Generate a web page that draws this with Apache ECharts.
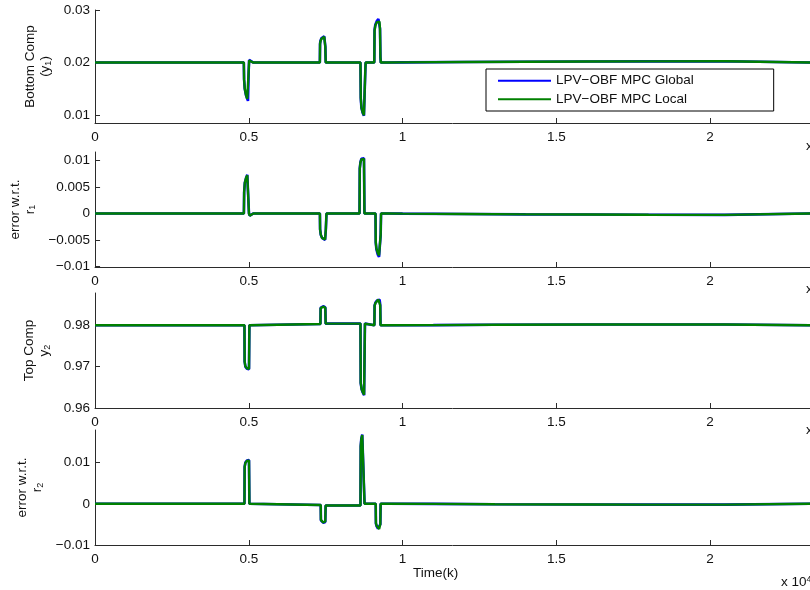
<!DOCTYPE html>
<html>
<head>
<meta charset="utf-8">
<script src="https://cdn.jsdelivr.net/npm/echarts@6/dist/echarts.min.js"></script>
<style>html,body{margin:0;padding:0;background:#fff}#c{width:810px;height:590px}</style>
</head>
<body>
<div id="c"></div>
<script>
// ---------- data ----------
const seriesNames = ['LPV\u2212OBF MPC Global', 'LPV\u2212OBF MPC Local'];
const xTicks = [0, 5000, 10000, 15000, 20000];

// Subplot 1: Bottom Comp (y1)
const t1 = [0, 4840, 4848, 4870, 4910, 4950, 4975, 4988, 4998, 5012, 5050, 5150,
  7312, 7318, 7330, 7360, 7410, 7455, 7478, 7490, 7502,
  8632, 8642, 8665, 8705, 8745, 8768, 8780, 8790, 8800,
  9082, 9090, 9115, 9165, 9215, 9250, 9268, 9282, 9294,
  9500, 10000, 12000, 14000, 16000, 18000, 20480, 20520, 23400];
const y1Global = [0.0200, 0.0200, 0.0168, 0.0150, 0.0138, 0.0131, 0.0127, 0.0128, 0.0185, 0.0205, 0.0202, 0.0200,
  0.0200, 0.0236, 0.0241, 0.0246, 0.0249, 0.0250, 0.0249, 0.0230, 0.0200,
  0.0200, 0.0132, 0.0113, 0.0104, 0.0099, 0.0098, 0.0102, 0.0185, 0.0200,
  0.0200, 0.0262, 0.0272, 0.0279, 0.0283, 0.0280, 0.0265, 0.0210, 0.0200,
  0.0200, 0.02003, 0.0201, 0.02016, 0.0202, 0.02022, 0.02024, 0.0200, 0.0200];
const y1Local = [0.0200, 0.0200, 0.0168, 0.0150, 0.0138, 0.0131, 0.0128, 0.0129, 0.0185, 0.0204, 0.0202, 0.0200,
  0.0200, 0.0235, 0.0240, 0.0245, 0.0248, 0.0249, 0.0248, 0.0230, 0.0200,
  0.0200, 0.0133, 0.0114, 0.0105, 0.0100, 0.0099, 0.0103, 0.0185, 0.0200,
  0.0200, 0.0260, 0.0270, 0.0277, 0.0280, 0.0278, 0.0263, 0.0210, 0.0200,
  0.0200, 0.02003, 0.0201, 0.02016, 0.0202, 0.02022, 0.02024, 0.0200, 0.0200];

// Subplot 2: error w.r.t. r1
const t2 = [0, 4840, 4848, 4870, 4910, 4950, 4978, 4992, 5005, 5030, 5150,
  7312, 7318, 7340, 7380, 7430, 7480, 7505, 7525,
  8600, 8608, 8630, 8660, 8690, 8745, 8760,
  9120, 9128, 9150, 9190, 9235, 9270, 9288, 9300,
  9500, 10000, 12000, 14000, 16000, 18000, 20480, 20520, 23400];
const e1Global = [0, 0, 0.0040, 0.0058, 0.0067, 0.0073, 0.0076, 0.0074, 0.0000, -0.0004, 0,
  0, -0.0030, -0.0040, -0.0046, -0.0049, -0.0050, -0.0030, 0,
  0, 0.0085, 0.0097, 0.0103, 0.0105, 0.0104, 0,
  0, -0.0055, -0.0068, -0.0077, -0.0082, -0.0080, -0.0040, 0,
  0, -0.00003, -0.0001, -0.00017, -0.0002, -0.00023, -0.00026, 0, 0];
const e1Local = [0, 0, 0.0040, 0.0058, 0.0067, 0.0072, 0.0075, 0.0073, 0.0000, -0.0004, 0,
  0, -0.0030, -0.0040, -0.0046, -0.0048, -0.0049, -0.0030, 0,
  0, 0.0084, 0.0096, 0.0102, 0.0104, 0.0103, 0,
  0, -0.0054, -0.0066, -0.0074, -0.0079, -0.0077, -0.0040, 0,
  0, -0.00003, -0.0001, -0.00017, -0.0002, -0.00023, -0.00026, 0, 0];

// Subplot 3: Top Comp y2
const t3 = [0, 4860, 4866, 4890, 4940, 4990, 5008, 5020,
  7330, 7336, 7360, 7420, 7475, 7490, 7500, 7600,
  8632, 8640, 8670, 8710, 8750, 8768, 8778,
  9085, 9092, 9120, 9170, 9215, 9255, 9275, 9285,
  9500, 11000, 13000, 16000, 18000, 20480, 20520, 23400];
const y2Global = [0.98, 0.98, 0.9712, 0.9700, 0.9695, 0.9692, 0.9694, 0.98,
  0.9803, 0.9842, 0.9845, 0.9846, 0.9846, 0.9843, 0.9804, 0.9804,
  0.9804, 0.9660, 0.9645, 0.9637, 0.9631, 0.9632, 0.9804,
  0.9800, 0.9848, 0.9855, 0.9860, 0.9864, 0.9862, 0.9850, 0.9800,
  0.9800, 0.98003, 0.98012, 0.98018, 0.9802, 0.9802, 0.9800, 0.9800];
const y2Local = [0.98, 0.98, 0.9712, 0.9701, 0.9696, 0.9693, 0.9695, 0.98,
  0.9803, 0.9841, 0.9844, 0.9845, 0.9845, 0.9842, 0.9804, 0.9804,
  0.9804, 0.9661, 0.9646, 0.9638, 0.9632, 0.9633, 0.9804,
  0.9800, 0.9847, 0.9854, 0.9858, 0.9862, 0.9860, 0.9848, 0.9800,
  0.9800, 0.98003, 0.98012, 0.98018, 0.9802, 0.9802, 0.9800, 0.9800];

// Subplot 4: error w.r.t. r2
const t4 = [0, 4860, 4866, 4890, 4940, 4990, 5008, 5020,
  7340, 7346, 7370, 7420, 7475, 7488, 7500, 7600,
  8632, 8640, 8660, 8690, 8720, 8755, 8765,
  9128, 9135, 9160, 9200, 9240, 9265, 9278, 9288,
  9500, 11000, 13000, 16000, 18000, 20480, 20520, 23400];
const e2Global = [0, 0, 0.0090, 0.0100, 0.0105, 0.0108, 0.0106, 0,
  -0.0003, -0.0040, -0.0044, -0.0046, -0.0046, -0.0044, -0.0004, -0.0004,
  -0.0004, 0.0140, 0.0158, 0.0168, 0.0170, 0.0168, 0,
  0, -0.0048, -0.0055, -0.0060, -0.0063, -0.0062, -0.0050, 0,
  0, -0.00003, -0.00012, -0.00018, -0.0002, -0.0002, 0, 0];
const e2Local = [0, 0, 0.0089, 0.0099, 0.0104, 0.0107, 0.0105, 0,
  -0.0003, -0.0039, -0.0043, -0.0045, -0.0045, -0.0043, -0.0004, -0.0004,
  -0.0004, 0.0139, 0.0157, 0.0167, 0.0169, 0.0167, 0,
  0, -0.0047, -0.0054, -0.0058, -0.0061, -0.0060, -0.0049, 0,
  0, -0.00003, -0.00012, -0.00018, -0.0002, -0.0002, 0, 0];

// y-axis ranges and tick values
const yRanges = [[0.0085, 0.03], [-0.0101, 0.0116], [0.96, 0.9878], [-0.01, 0.0179]];
const yTicks = [[0.01, 0.02, 0.03], [-0.01, -0.005, 0, 0.005, 0.01], [0.96, 0.97, 0.98], [-0.01, 0, 0.01]];
const yNames = [
  '{t|Bottom Comp}\n{t|(y}{s|1}{t|)}',
  '{t|error w.r.t.}\n{t|r}{s|1}',
  '{t|Top Comp}\n{t|y}{s|2}',
  '{t|error w.r.t.}\n{t|r}{s|2}'
];
const xName = 'Time(k)';

// ---------- chart ----------
const FONT = '"Liberation Sans", Arial, Helvetica, sans-serif';
const TXT = '#111';
const AX = '#2b2b2b';
const XMAX = 23250;
const gridTops = [10, 152, 293, 430];
const gridH = [113, 115, 115, 115];
const nameGaps = [42, 56, 43, 48];

function pairs(t, v) { return t.map((x, i) => [x, v[i]]); }
function fmtY(v) { return String(parseFloat(v.toFixed(6))).replace('-', '\u2212'); }

const grids = gridTops.map((top, i) => ({ left: 95, top: top, width: 722, height: gridH[i] }));
const xAxes = gridTops.map((_, i) => ({
  type: 'value', gridIndex: i, min: 0, max: XMAX,
  axisLine: { show: true, onZero: false, lineStyle: { color: AX, width: 1 } },
  axisTick: { show: true, inside: true, length: 5, customValues: xTicks, lineStyle: { color: AX } },
  axisLabel: { show: true, customValues: xTicks, margin: 7, color: TXT, fontFamily: FONT, fontSize: 13.5,
    formatter: v => String(v / 10000) },
  splitLine: { show: false }
}));
const yAxes = gridTops.map((_, i) => ({
  type: 'value', gridIndex: i, min: yRanges[i][0], max: yRanges[i][1],
  axisLine: { show: true, lineStyle: { color: AX, width: 1 } },
  axisTick: { show: true, inside: true, length: 5, customValues: yTicks[i], lineStyle: { color: AX } },
  axisLabel: { show: true, customValues: yTicks[i], margin: 5, color: TXT, fontFamily: FONT, fontSize: 13.5, formatter: fmtY },
  splitLine: { show: false },
  name: yNames[i], nameLocation: 'middle', nameRotate: 90, nameGap: nameGaps[i],
  nameTextStyle: {
    rich: {
      t: { fontSize: 13.5, fontFamily: FONT, color: TXT, lineHeight: 15 },
      s: { fontSize: 9, fontFamily: FONT, color: TXT, lineHeight: 7, verticalAlign: 'bottom' }
    }
  }
}));

const data = [[t1, y1Global, y1Local], [t2, e1Global, e1Local], [t3, y2Global, y2Local], [t4, e2Global, e2Local]];
const series = [];
data.forEach((d, i) => {
  series.push({ name: seriesNames[0], type: 'line', xAxisIndex: i, yAxisIndex: i, data: pairs(d[0], d[1]),
    showSymbol: false, symbol: 'none', lineStyle: { color: '#0000ff', width: 2.6 }, itemStyle: { color: '#0000ff' }, animation: false, z: 2 });
  series.push({ name: seriesNames[1], type: 'line', xAxisIndex: i, yAxisIndex: i, data: pairs(d[0], d[2]),
    showSymbol: false, symbol: 'none', lineStyle: { color: '#008000', width: 2.4 }, itemStyle: { color: '#008000' }, animation: false, z: 3 });
});

const supRich = { p: { fontSize: 9, fontFamily: FONT, fill: TXT, verticalAlign: 'top' } };
const expLabels = [];
const expY = [139, 282, 423];
expY.forEach(y => expLabels.push({ type: 'text', left: 806, top: y,
  style: { text: 'x 10{p|4}', fill: TXT, font: '13.5px ' + FONT, rich: supRich } }));
expLabels.push({ type: 'text', left: 781, top: 575,
  style: { text: 'x 10{p|4}', fill: TXT, font: '13.5px ' + FONT, rich: supRich } });
expLabels.push({ type: 'text', left: 413, top: 566, style: { text: xName, fill: TXT, font: '13.5px ' + FONT, align: 'center' } });

const chart = echarts.init(document.getElementById('c'), null, { renderer: 'canvas' });
chart.setOption({
  animation: false,
  backgroundColor: '#fff',
  grid: grids,
  xAxis: xAxes,
  yAxis: yAxes,
  legend: {
    data: seriesNames, orient: 'vertical', left: 486, top: 69,
    itemWidth: 53, itemHeight: 14, itemGap: 4.6,
    padding: [4.7, 80, 4.7, 11],
    itemStyle: { opacity: 0 },
    backgroundColor: '#fff', borderColor: '#000', borderWidth: 1, borderRadius: 0,
    textStyle: { fontFamily: FONT, fontSize: 13.5, color: TXT, lineHeight: 14 },
    selectedMode: false
  },
  graphic: expLabels,
  series: series
});
</script>
</body>
</html>
